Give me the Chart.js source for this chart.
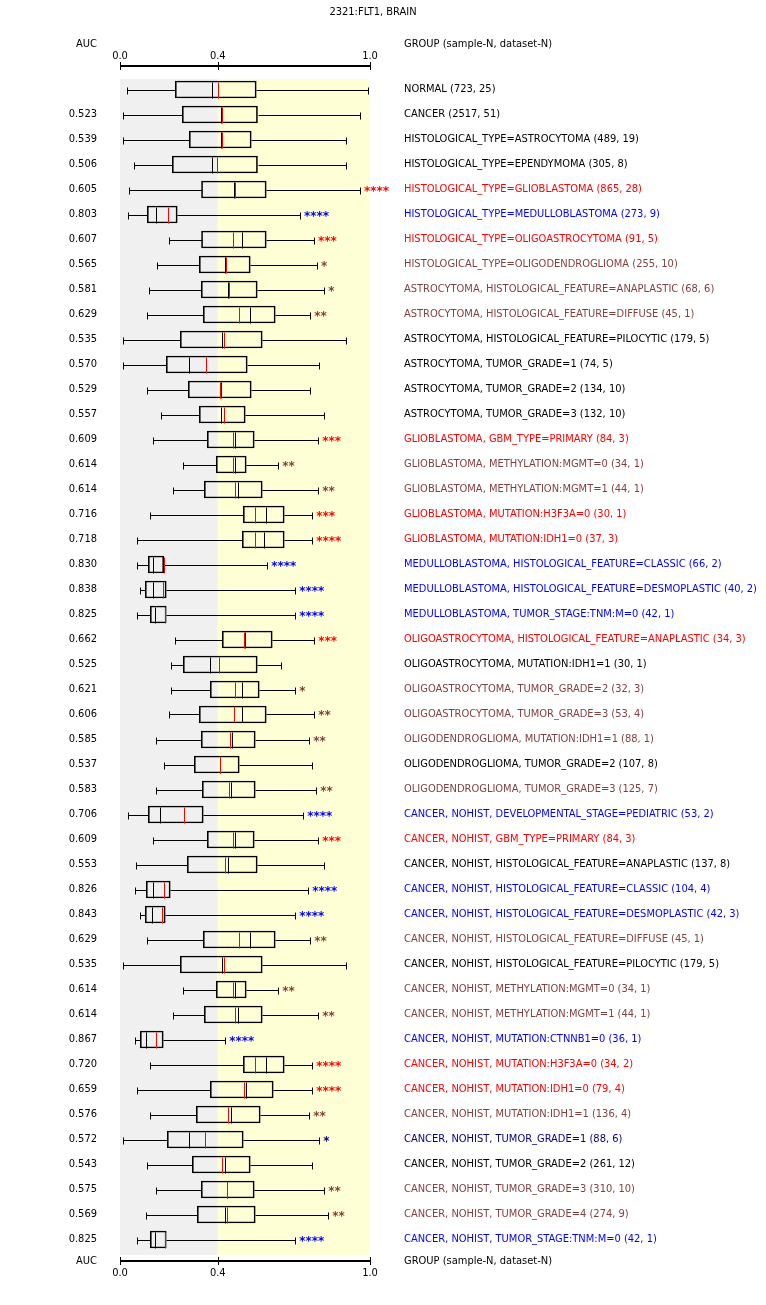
<!DOCTYPE html>
<html>
<head>
<meta charset="utf-8">
<title>2321:FLT1, BRAIN</title>
<script src="https://cdn.jsdelivr.net/npm/chart.js@4.4.1/dist/chart.umd.min.js"></script>
<style>
  html, body { margin: 0; padding: 0; background: #fff; }
  #wrap { position: relative; width: 766px; height: 1305px; }
</style>
</head>
<body>
<div id="wrap"><canvas id="chart"></canvas></div>
<script>
// Caixas horizontais por grupo, AUC à esquerda, grupo à direita.

const groups = [
  "NORMAL (723, 25)",
  "CANCER (2517, 51)",
  "HISTOLOGICAL_TYPE=ASTROCYTOMA (489, 19)",
  "HISTOLOGICAL_TYPE=EPENDYMOMA (305, 8)",
  "HISTOLOGICAL_TYPE=GLIOBLASTOMA (865, 28)",
  "HISTOLOGICAL_TYPE=MEDULLOBLASTOMA (273, 9)",
  "HISTOLOGICAL_TYPE=OLIGOASTROCYTOMA (91, 5)",
  "HISTOLOGICAL_TYPE=OLIGODENDROGLIOMA (255, 10)",
  "ASTROCYTOMA, HISTOLOGICAL_FEATURE=ANAPLASTIC (68, 6)",
  "ASTROCYTOMA, HISTOLOGICAL_FEATURE=DIFFUSE (45, 1)",
  "ASTROCYTOMA, HISTOLOGICAL_FEATURE=PILOCYTIC (179, 5)",
  "ASTROCYTOMA, TUMOR_GRADE=1 (74, 5)",
  "ASTROCYTOMA, TUMOR_GRADE=2 (134, 10)",
  "ASTROCYTOMA, TUMOR_GRADE=3 (132, 10)",
  "GLIOBLASTOMA, GBM_TYPE=PRIMARY (84, 3)",
  "GLIOBLASTOMA, METHYLATION:MGMT=0 (34, 1)",
  "GLIOBLASTOMA, METHYLATION:MGMT=1 (44, 1)",
  "GLIOBLASTOMA, MUTATION:H3F3A=0 (30, 1)",
  "GLIOBLASTOMA, MUTATION:IDH1=0 (37, 3)",
  "MEDULLOBLASTOMA, HISTOLOGICAL_FEATURE=CLASSIC (66, 2)",
  "MEDULLOBLASTOMA, HISTOLOGICAL_FEATURE=DESMOPLASTIC (40, 2)",
  "MEDULLOBLASTOMA, TUMOR_STAGE:TNM:M=0 (42, 1)",
  "OLIGOASTROCYTOMA, HISTOLOGICAL_FEATURE=ANAPLASTIC (34, 3)",
  "OLIGOASTROCYTOMA, MUTATION:IDH1=1 (30, 1)",
  "OLIGOASTROCYTOMA, TUMOR_GRADE=2 (32, 3)",
  "OLIGOASTROCYTOMA, TUMOR_GRADE=3 (53, 4)",
  "OLIGODENDROGLIOMA, MUTATION:IDH1=1 (88, 1)",
  "OLIGODENDROGLIOMA, TUMOR_GRADE=2 (107, 8)",
  "OLIGODENDROGLIOMA, TUMOR_GRADE=3 (125, 7)",
  "CANCER, NOHIST, DEVELOPMENTAL_STAGE=PEDIATRIC (53, 2)",
  "CANCER, NOHIST, GBM_TYPE=PRIMARY (84, 3)",
  "CANCER, NOHIST, HISTOLOGICAL_FEATURE=ANAPLASTIC (137, 8)",
  "CANCER, NOHIST, HISTOLOGICAL_FEATURE=CLASSIC (104, 4)",
  "CANCER, NOHIST, HISTOLOGICAL_FEATURE=DESMOPLASTIC (42, 3)",
  "CANCER, NOHIST, HISTOLOGICAL_FEATURE=DIFFUSE (45, 1)",
  "CANCER, NOHIST, HISTOLOGICAL_FEATURE=PILOCYTIC (179, 5)",
  "CANCER, NOHIST, METHYLATION:MGMT=0 (34, 1)",
  "CANCER, NOHIST, METHYLATION:MGMT=1 (44, 1)",
  "CANCER, NOHIST, MUTATION:CTNNB1=0 (36, 1)",
  "CANCER, NOHIST, MUTATION:H3F3A=0 (34, 2)",
  "CANCER, NOHIST, MUTATION:IDH1=0 (79, 4)",
  "CANCER, NOHIST, MUTATION:IDH1=1 (136, 4)",
  "CANCER, NOHIST, TUMOR_GRADE=1 (88, 6)",
  "CANCER, NOHIST, TUMOR_GRADE=2 (261, 12)",
  "CANCER, NOHIST, TUMOR_GRADE=3 (310, 10)",
  "CANCER, NOHIST, TUMOR_GRADE=4 (274, 9)",
  "CANCER, NOHIST, TUMOR_STAGE:TNM:M=0 (42, 1)",
];

const auc = [
  "", "0.523", "0.539", "0.506", "0.605", "0.803", "0.607", "0.565",
  "0.581", "0.629", "0.535", "0.570", "0.529", "0.557", "0.609", "0.614",
  "0.614", "0.716", "0.718", "0.830", "0.838", "0.825", "0.662", "0.525",
  "0.621", "0.606", "0.585", "0.537", "0.583", "0.706", "0.609", "0.553",
  "0.826", "0.843", "0.629", "0.535", "0.614", "0.614", "0.867", "0.720",
  "0.659", "0.576", "0.572", "0.543", "0.575", "0.569", "0.825",
];

const whiskerLo = [
  0.027, 0.013, 0.013, 0.056, 0.037, 0.033, 0.197, 0.146,
  0.117, 0.109, 0.013, 0.013, 0.109, 0.165, 0.133, 0.253,
  0.213, 0.121, 0.069, 0.069, 0.079, 0.069, 0.221, 0.205,
  0.205, 0.197, 0.145, 0.177, 0.145, 0.033, 0.133, 0.065,
  0.061, 0.079, 0.109, 0.013, 0.253, 0.213, 0.061, 0.121,
  0.069, 0.121, 0.013, 0.109, 0.145, 0.105, 0.069,
];
const boxLo = [
  0.221, 0.249, 0.277, 0.209, 0.326, 0.109, 0.326, 0.317,
  0.325, 0.333, 0.241, 0.185, 0.273, 0.317, 0.349, 0.385,
  0.337, 0.493, 0.489, 0.113, 0.101, 0.121, 0.409, 0.253,
  0.361, 0.317, 0.325, 0.297, 0.329, 0.113, 0.349, 0.269,
  0.105, 0.101, 0.333, 0.241, 0.385, 0.337, 0.081, 0.493,
  0.361, 0.305, 0.189, 0.289, 0.325, 0.309, 0.121,
];
const median = [
  0.366, 0.403, 0.405, 0.366, 0.457, 0.142, 0.489, 0.418,
  0.433, 0.521, 0.409, 0.277, 0.405, 0.405, 0.461, 0.460,
  0.473, 0.585, 0.577, 0.133, 0.133, 0.141, 0.501, 0.361,
  0.489, 0.489, 0.449, 0.401, 0.445, 0.161, 0.461, 0.433,
  0.133, 0.129, 0.521, 0.409, 0.460, 0.473, 0.105, 0.585,
  0.505, 0.445, 0.277, 0.421, 0.429, 0.421, 0.141,
];
const mean = [
  0.391, 0.406, 0.407, 0.389, 0.459, 0.193, 0.453, 0.425,
  0.437, 0.477, 0.417, 0.345, 0.401, 0.417, 0.453, 0.453,
  0.461, 0.541, 0.541, 0.175, 0.173, 0.181, 0.497, 0.397,
  0.461, 0.457, 0.441, 0.401, 0.437, 0.257, 0.453, 0.421,
  0.177, 0.169, 0.477, 0.417, 0.453, 0.461, 0.145, 0.541,
  0.497, 0.433, 0.341, 0.409, 0.429, 0.429, 0.181,
];
const boxHi = [
  0.545, 0.550, 0.525, 0.550, 0.585, 0.229, 0.585, 0.521,
  0.549, 0.621, 0.569, 0.509, 0.525, 0.501, 0.537, 0.505,
  0.569, 0.657, 0.657, 0.175, 0.185, 0.185, 0.609, 0.549,
  0.557, 0.585, 0.541, 0.477, 0.541, 0.333, 0.537, 0.549,
  0.201, 0.181, 0.621, 0.569, 0.505, 0.569, 0.173, 0.657,
  0.613, 0.561, 0.493, 0.521, 0.537, 0.541, 0.185,
];
const whiskerHi = [
  0.993, 0.961, 0.904, 0.904, 0.960, 0.720, 0.776, 0.788,
  0.817, 0.761, 0.905, 0.797, 0.761, 0.817, 0.793, 0.633,
  0.793, 0.769, 0.769, 0.589, 0.701, 0.701, 0.777, 0.645,
  0.701, 0.777, 0.757, 0.769, 0.785, 0.733, 0.793, 0.817,
  0.753, 0.701, 0.761, 0.905, 0.633, 0.793, 0.421, 0.769,
  0.769, 0.757, 0.797, 0.769, 0.817, 0.833, 0.701,
];

const stars = [
  "", "", "", "", "****", "****", "***", "*",
  "*", "**", "", "", "", "", "***", "**",
  "**", "***", "****", "****", "****", "****", "***", "",
  "*", "**", "**", "", "**", "****", "***", "",
  "****", "****", "**", "", "**", "**", "****", "****",
  "****", "**", "*", "", "**", "**", "****",
];

// up = AUC alto, down = baixo, weak* = significância fraca
const tone = [
  "", "", "", "", "up", "down", "up", "weak",
  "weak", "weak", "", "", "", "", "up", "weak",
  "weak", "up", "up", "down", "down", "down", "up", "",
  "weak", "weak", "weak", "", "weak", "down", "up", "",
  "down", "down", "weak", "", "weak", "weak", "down", "up",
  "up", "weak", "weakDown", "", "weak", "weak", "down",
];

const TONE_COLOR = { "": "#000000", up: "#ff0000", down: "#0000ff", weak: "#803f3f", weakDown: "#000080" };
const FONT = "'DejaVu Sans Condensed', 'DejaVu Sans', sans-serif";
const FONT_SIZE = 11;
const BOX_H = 17;

Chart.defaults.font.family = FONT;
Chart.defaults.font.size = FONT_SIZE;
Chart.defaults.color = "#000";

const boxPlotPlugin = {
  id: "boxPlot",
  beforeDatasetsDraw(chart) {
    const { ctx, chartArea: a, scales: { x } } = chart;
    const split = x.getPixelForValue(mean[0]);
    ctx.save();
    ctx.fillStyle = "#f0f0f0";
    ctx.fillRect(x.getPixelForValue(0), a.top + 2, split - x.getPixelForValue(0), a.bottom - a.top + 1);
    ctx.fillStyle = "#ffffd5";
    ctx.fillRect(split, a.top + 2, x.getPixelForValue(1) - split, a.bottom - a.top + 1);
    ctx.restore();
  },
  afterDatasetsDraw(chart) {
    const { ctx, scales: { x, y } } = chart;
    const px = (v) => Math.round(x.getPixelForValue(v)) + 0.5;
    ctx.save();
    ctx.lineWidth = 1;
    groups.forEach((_, i) => {
      const yc = Math.round(y.getPixelForValue(i)) + 0.5;
      const top = yc - BOX_H / 2 + 0.5, bot = yc + BOX_H / 2 - 0.5;
      ctx.strokeStyle = "#000";
      ctx.beginPath();
      ctx.moveTo(px(whiskerLo[i]), yc); ctx.lineTo(px(boxLo[i]), yc);
      ctx.moveTo(px(boxHi[i]), yc); ctx.lineTo(px(whiskerHi[i]), yc);
      ctx.moveTo(px(whiskerLo[i]), yc - 3); ctx.lineTo(px(whiskerLo[i]), yc + 4);
      ctx.moveTo(px(whiskerHi[i]), yc - 3); ctx.lineTo(px(whiskerHi[i]), yc + 4);
      ctx.moveTo(px(median[i]), top); ctx.lineTo(px(median[i]), bot);
      ctx.stroke();
      ctx.strokeStyle = "#ff0000";
      ctx.beginPath();
      ctx.moveTo(px(mean[i]), top); ctx.lineTo(px(mean[i]), bot);
      ctx.stroke();
      if (stars[i]) {
        ctx.fillStyle = TONE_COLOR[tone[i]];
        ctx.font = "bold 12px 'DejaVu Sans', sans-serif";
        ctx.textBaseline = "middle";
        ctx.textAlign = "left";
        ctx.fillText(stars[i], x.getPixelForValue(whiskerHi[i]) + 4, yc + 1);
      }
    });
    ctx.restore();
  },
  afterDraw(chart) {
    const { ctx, chartArea: a, scales: { x } } = chart;
    ctx.save();
    // eixo de cima e de baixo
    ctx.strokeStyle = "#000";
    [a.top - 11, a.bottom + 9].forEach((ly) => {
      ctx.lineWidth = 2;
      ctx.beginPath();
      ctx.moveTo(x.getPixelForValue(0), ly);
      ctx.lineTo(x.getPixelForValue(1), ly);
      ctx.stroke();
      ctx.lineWidth = 1;
      x.ticks.forEach((t) => {
        const tx = Math.round(x.getPixelForValue(t.value)) + 0.5;
        ctx.beginPath();
        ctx.moveTo(tx, ly - 4);
        ctx.lineTo(tx, ly + 4);
        ctx.stroke();
      });
    });
    ctx.fillStyle = "#000";
    ctx.font = `${FONT_SIZE}px ${FONT}`;
    ctx.textBaseline = "middle";
    ctx.textAlign = "center";
    ctx.fillText("2321:FLT1, BRAIN", 373, 12);
    [44, a.bottom + 9].forEach((hy) => {
      ctx.textAlign = "right";
      ctx.fillText("AUC", a.left - 23, hy);
      ctx.textAlign = "left";
      ctx.fillText("GROUP (sample-N, dataset-N)", a.right + 34, hy);
    });
    ctx.restore();
  },
};

const xTicks = (scale) => {
  // o 0.4 do original fica na média do NORMAL
  scale.ticks = [0, mean[0], 1].map((v) => ({ value: v }));
};

new Chart(document.getElementById("chart"), {
  type: "bar",
  data: {
    labels: groups,
    datasets: [
      {
        data: boxLo.map((v, i) => [v, boxHi[i]]),
        backgroundColor: "transparent",
        borderColor: "#000",
        borderWidth: 1,
        borderSkipped: false,
        barThickness: BOX_H,
      },
    ],
  },
  plugins: [boxPlotPlugin],
  options: {
    indexAxis: "y",
    responsive: true,
    maintainAspectRatio: false,
    animation: false,
    layout: { padding: 0 },
    plugins: { legend: { display: false }, tooltip: { enabled: false }, title: { display: false } },
    scales: {
      x: {
        type: "linear", position: "top", min: 0, max: 1,
        grid: { display: false, drawTicks: false }, border: { display: false },
        afterBuildTicks: xTicks,
        ticks: { padding: 14, callback: (v) => Number(v).toFixed(1), maxRotation: 0 },
        afterFit: (s) => { s.height = 77; },
      },
      x2: {
        type: "linear", position: "bottom", min: 0, max: 1,
        grid: { display: false, drawTicks: false }, border: { display: false },
        afterBuildTicks: xTicks,
        ticks: { padding: 15, callback: (v) => Number(v).toFixed(1), maxRotation: 0 },
        afterFit: (s) => { s.height = 53; },
      },
      y: {
        type: "category", position: "right",
        grid: { display: false, drawTicks: false }, border: { display: false },
        ticks: { padding: 34, autoSkip: false, color: (c) => TONE_COLOR[tone[c.index]] },
        afterFit: (s) => { s.width = 396; },
      },
      yAuc: {
        type: "category", position: "left", labels: auc,
        grid: { display: false, drawTicks: false }, border: { display: false },
        ticks: { padding: 23, autoSkip: false },
        afterFit: (s) => { s.width = 120; },
      },
    },
  },
});
</script>
</body>
</html>
